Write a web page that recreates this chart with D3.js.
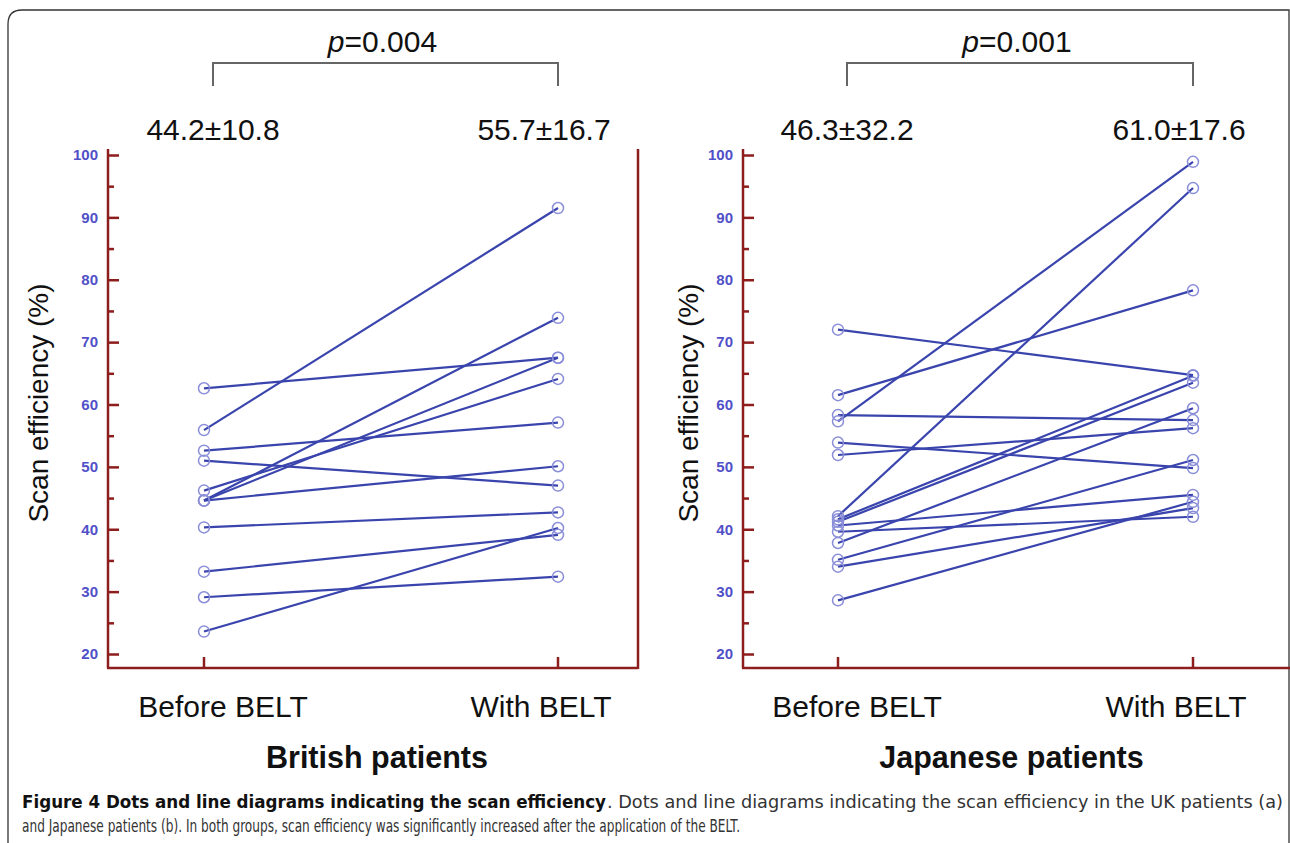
<!DOCTYPE html>
<html>
<head>
<meta charset="utf-8">
<script src="https://cdn.jsdelivr.net/npm/d3@7"></script>
<style>
  body { margin: 0; background: #fff; }
  svg { display: block; }
</style>
</head>
<body>
<div id="chart"></div>
<script>
// values
const conditions = ['Before BELT', 'With BELT']
const yTicks = [20, 30, 40, 50, 60, 70, 80, 90, 100]
const yMinorTicks = [25, 35, 45, 55, 65, 75, 85, 95]

const britishBefore = [62.6, 55.9, 52.6, 51.0, 46.2, 44.6, 44.6, 44.6, 40.3, 33.2, 29.1, 23.6]
const britishAfter = [67.5, 91.5, 57.1, 47.0, 64.1, 73.9, 67.5, 50.1, 42.7, 39.1, 32.4, 40.2]
const britishStats = ['44.2±10.8', '55.7±16.7']
const britishP = '0.004'

const japaneseBefore = [72.0, 61.5, 58.3, 57.3, 53.9, 51.9, 42.1, 41.6, 41.2, 40.6, 39.6, 37.8, 35.1, 34.0, 28.6]
const japaneseAfter = [64.7, 78.3, 57.5, 98.9, 49.8, 56.2, 94.7, 64.6, 63.5, 45.5, 42.0, 59.4, 51.1, 43.4, 44.4]
const japaneseStats = ['46.3±32.2', '61.0±17.6']
const japaneseP = '0.001'

const width = 1290
const height = 843
const axisRed = '#8e1d1d'
const lineBlue = '#3a44ad'
const dotBlue = '#8a8ed8'
const tickBlue = '#5050c8'

const svg = d3
  .select('#chart')
  .append('svg')
  .attr('width', width)
  .attr('height', height)
  .style('font-family', 'Liberation Sans, Arial, sans-serif')

// outer frame with the rounded corner
svg
  .append('path')
  .attr('d', 'M8,843 L8,24 Q8,10 22,10 L1289,10 L1289,843')
  .attr('fill', 'none')
  .attr('stroke', '#333')
  .attr('stroke-width', 1.3)

const y = d3.scaleLinear().domain([20, 100]).range([654, 155])

const panels = [
  {
    title: 'British patients',
    before: britishBefore,
    after: britishAfter,
    stats: britishStats,
    p: britishP,
    axisX: 108,
    range: [204, 558],
    right: 638,
    yLabelX: 40
  },
  {
    title: 'Japanese patients',
    before: japaneseBefore,
    after: japaneseAfter,
    stats: japaneseStats,
    p: japaneseP,
    axisX: 743,
    range: [838, 1193],
    right: null,
    yLabelX: 690
  }
]

const bottom = 668

panels.forEach(function(p) {
  const x = d3.scalePoint().domain(conditions).range(p.range)
  const g = svg.append('g')

  // y axis, ticks pointing inward, labels outside
  const yAxis = d3
    .axisLeft(y)
    .tickValues(yTicks)
    .tickSize(-11)
    .tickSizeOuter(0)
    .tickPadding(10)

  const ya = g
    .append('g')
    .attr('transform', `translate(${p.axisX},0)`)
    .call(yAxis)
  ya.select('.domain').remove()
  ya.selectAll('.tick line')
    .attr('stroke', axisRed)
    .attr('stroke-width', 2.5)
  ya.selectAll('.tick text')
    .attr('fill', tickBlue)
    .style('font-size', '15px')
    .style('font-weight', 'bold')
    .style('font-family', 'Liberation Sans, Arial, sans-serif')

  const yMinor = g
    .append('g')
    .attr('transform', `translate(${p.axisX},0)`)
    .call(
      d3.axisLeft(y)
        .tickValues(yMinorTicks)
        .tickSize(-6)
        .tickSizeOuter(0)
        .tickFormat('')
    )
  yMinor.select('.domain').remove()
  yMinor.selectAll('.tick line')
    .attr('stroke', axisRed)
    .attr('stroke-width', 2.5)

  // axis frame lines
  const frameRight = p.right === null ? width : p.right
  g.append('line')
    .attr('x1', p.axisX).attr('x2', p.axisX)
    .attr('y1', y(100) - 6).attr('y2', bottom)
    .attr('stroke', axisRed).attr('stroke-width', 2.5)
  g.append('line')
    .attr('x1', p.axisX - 1).attr('x2', frameRight)
    .attr('y1', bottom).attr('y2', bottom)
    .attr('stroke', axisRed).attr('stroke-width', 2.5)
  if (p.right !== null) {
    g.append('line')
      .attr('x1', p.right).attr('x2', p.right)
      .attr('y1', y(100) - 6).attr('y2', bottom + 1)
      .attr('stroke', axisRed).attr('stroke-width', 2.5)
  }

  // x ticks
  g.selectAll('.xtick')
    .data(conditions)
    .enter()
    .append('line')
    .attr('x1', d => x(d)).attr('x2', d => x(d))
    .attr('y1', bottom).attr('y2', bottom - 11)
    .attr('stroke', axisRed).attr('stroke-width', 2.5)

  // x labels
  g.selectAll('.xlabel')
    .data(conditions)
    .enter()
    .append('text')
    .attr('x', (d, i) => x(d) + (i === 0 ? 19 : -17))
    .attr('y', 717)
    .attr('text-anchor', 'middle')
    .style('font-size', '30px')
    .attr('fill', '#111')
    .text(d => d)

  g.append('text')
    .attr('transform', `translate(${p.yLabelX + 8},403) rotate(-90)`)
    .attr('text-anchor', 'middle')
    .style('font-size', '28px')
    .attr('fill', '#111')
    .text('Scan efficiency (%)')

  g.append('text')
    .attr('x', (p.range[0] + p.range[1]) / 2 - 4)
    .attr('y', 768)
    .attr('text-anchor', 'middle')
    .style('font-size', '30.5px')
    .style('font-weight', 'bold')
    .attr('fill', '#111')
    .text(p.title)

  // paired lines
  const pairs = p.before.map((b, i) => ({ before: b, after: p.after[i] }))
  g.selectAll('.pair')
    .data(pairs)
    .enter()
    .append('line')
    .attr('x1', x(conditions[0]))
    .attr('x2', x(conditions[1]))
    .attr('y1', d => y(d.before))
    .attr('y2', d => y(d.after))
    .attr('stroke', lineBlue)
    .attr('stroke-width', 2.2)

  const dots = []
  pairs.forEach(d => {
    dots.push({ c: conditions[0], v: d.before })
    dots.push({ c: conditions[1], v: d.after })
  })
  g.selectAll('.dot')
    .data(dots)
    .enter()
    .append('circle')
    .attr('cx', d => x(d.c))
    .attr('cy', d => y(d.v))
    .attr('r', 5.5)
    .attr('fill', 'none')
    .attr('stroke', dotBlue)
    .attr('stroke-width', 1.5)

  // means and sd above the plot
  g.selectAll('.stat')
    .data(p.stats)
    .enter()
    .append('text')
    .attr('x', (d, i) => x(conditions[i]) + (i === 0 ? 9 : -14))
    .attr('y', 140)
    .attr('text-anchor', 'middle')
    .style('font-size', '30px')
    .attr('fill', '#111')
    .text(d => d)

  // significance bracket
  const bx0 = x(conditions[0]) + 9
  const bx1 = x(conditions[1])
  g.append('path')
    .attr('d', `M${bx0},86 V63 H${bx1} V86`)
    .attr('fill', 'none')
    .attr('stroke', '#666')
    .attr('stroke-width', 2)

  const pt = g.append('text')
    .attr('x', (bx0 + bx1) / 2 - 3)
    .attr('y', 52)
    .attr('text-anchor', 'middle')
    .style('font-size', '30px')
    .attr('fill', '#111')
  pt.append('tspan').style('font-style', 'italic').text('p')
  pt.append('tspan').text('=' + p.p)
})

// caption
const capFont = 'Liberation Sans Narrow, DejaVu Sans Condensed, Arial Narrow, sans-serif'
svg.append('text')
  .attr('x', 22).attr('y', 808)
  .attr('textLength', 584).attr('lengthAdjust', 'spacingAndGlyphs')
  .style('font-family', capFont)
  .style('font-size', '17px')
  .style('font-weight', 'bold')
  .attr('fill', '#111')
  .text('Figure 4 Dots and line diagrams indicating the scan efficiency')
svg.append('text')
  .attr('x', 607).attr('y', 808)
  .attr('textLength', 676).attr('lengthAdjust', 'spacingAndGlyphs')
  .style('font-family', capFont)
  .style('font-size', '17px')
  .attr('fill', '#333')
  .text('. Dots and line diagrams indicating the scan efficiency in the UK patients (a)')
svg.append('text')
  .attr('x', 22).attr('y', 832)
  .attr('textLength', 718).attr('lengthAdjust', 'spacingAndGlyphs')
  .style('font-family', capFont)
  .style('font-size', '17px')
  .attr('fill', '#333')
  .text('and Japanese patients (b). In both groups, scan efficiency was significantly increased after the application of the BELT.')
</script>
</body>
</html>
